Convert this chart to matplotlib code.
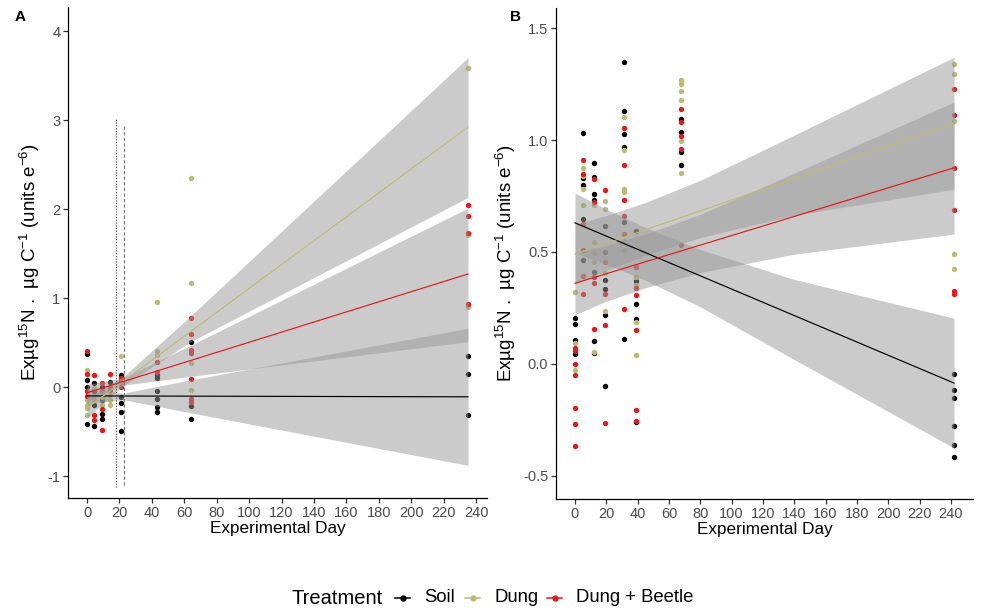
import matplotlib
matplotlib.use("Agg")
import matplotlib.pyplot as plt
from matplotlib.lines import Line2D

plt.rcParams["font.family"] = ["Liberation Sans", "DejaVu Sans"]
plt.rcParams["mathtext.fontset"] = "custom"
plt.rcParams["mathtext.rm"] = "Liberation Sans"
plt.rcParams["mathtext.default"] = "regular"
plt.rcParams["axes.unicode_minus"] = False

SOIL_C = "black"
DUNG_C = "#BDBB73"
BEET_C = "#E3191C"
BAND_C = "#999999"

# ---------------- panel A data ----------------
a_soil_day = [0, 0, 0, 0, 4, 4, 4, 4, 9, 9, 9, 9, 14,
              21, 21, 21, 21, 21, 21, 43, 43, 43, 43, 43, 43,
              64, 64, 64, 235, 235, 235]
a_soil_val = [0.37, 0.08, 0.00, -0.42, 0.04, -0.05, -0.20, -0.44, 0.00, -0.15, -0.30, -0.36, 0.06,
              0.14, 0.07, -0.11, -0.18, -0.28, -0.49, 0.13, 0.10, -0.05, -0.13, -0.22, -0.28,
              0.51, -0.21, -0.36, 0.35, 0.15, -0.31]

a_dung_day = [0, 0, 0, 0, 0, 4, 4, 4, 9, 9, 14, 14, 14,
              21, 21, 43, 43, 43, 64, 64, 64, 64, 235, 235, 235]
a_dung_val = [0.19, -0.15, -0.20, -0.24, -0.31, -0.01, -0.10, -0.15, -0.11, -0.20, -0.09, -0.15, -0.20,
              0.35, 0.03, 0.96, 0.40, 0.36, 2.35, 1.17, 0.27, -0.03, 3.58, 1.71, 0.90]

a_beet_day = [0, 0, 0, 0, 4, 4, 4, 9, 9, 9, 9, 14, 14, 14,
              21, 21, 43, 43, 64, 64, 64, 64, 64, 64, 64, 235, 235, 235, 235]
a_beet_val = [0.40, 0.15, -0.05, -0.10, 0.13, -0.31, -0.37, 0.04, -0.05, -0.25, -0.48, 0.15, 0.00, -0.03,
              0.10, 0.00, 0.28, 0.17, 0.77, 0.60, 0.42, 0.38, 0.09, -0.13, -0.17, 2.04, 1.92, 1.73, 0.93]

a_fit_day = [0, 235]
a_soil_fit = [-0.10, -0.11]
a_dung_fit = [-0.235, 2.92]
a_beet_fit = [-0.065, 1.27]

a_band_day = [0, 22, 64, 235]
a_soil_lo = [-0.19, -0.14, -0.29, -0.88]
a_soil_hi = [-0.01, -0.07, 0.08, 0.66]
a_dung_lo = [-0.35, 0.01, 0.51, 2.13]
a_dung_hi = [-0.12, 0.11, 0.80, 3.70]
a_beet_lo = [-0.16, 0.02, 0.12, 0.51]
a_beet_hi = [0.03, 0.10, 0.47, 2.01]

a_vline_day = [17.7, 22.9]
a_vline_lo = [-1.12, -1.10]
a_vline_hi = [3.02, 2.94]

# ---------------- panel B data ----------------
b_soil_day = [0, 0, 0, 0, 5, 5, 5, 5, 5, 12, 12, 12, 12, 12, 12, 12,
              19, 19, 19, 19, 19, 19, 31, 31, 31, 31, 31, 31, 39, 39, 39, 39, 39,
              68, 68, 68, 68, 242, 242, 242, 242, 242, 242]
b_soil_val = [0.207, 0.177, 0.107, 0.043, 1.032, 0.83, 0.80, 0.647, 0.462,
              0.898, 0.835, 0.76, 0.734, 0.41, 0.103, 0.05,
              0.617, 0.498, 0.376, 0.334, 0.219, -0.10, 1.348, 1.129, 1.025, 0.97, 0.632, 0.11,
              0.595, 0.368, 0.267, 0.201, -0.262, 1.092, 1.035, 0.945, 0.89,
              -0.045, -0.116, -0.151, -0.28, -0.364, -0.415]

b_dung_day = [0, 0, 0, 5, 5, 5, 5, 12, 12, 12, 12, 12, 19, 19, 19, 19,
              31, 31, 31, 31, 31, 31, 39, 39, 39, 39, 68, 68, 68, 68, 68, 68,
              242, 242, 242, 242, 242]
b_dung_val = [0.32, 0.095, -0.027, 0.876, 0.838, 0.78, 0.711, 0.711, 0.543, 0.495, 0.453, 0.055,
              0.729, 0.69, 0.406, 0.237, 1.104, 0.957, 0.78, 0.767, 0.547, 0.51,
              0.39, 0.353, 0.185, 0.04, 1.27, 1.25, 1.22, 1.181, 0.995, 0.853,
              1.338, 1.293, 1.084, 0.491, 0.425]

b_beet_day = [0, 0, 0, 0, 0, 0, 0, 5, 5, 5, 5, 5, 5, 12, 12, 12, 12, 12,
              19, 19, 19, 19, 19, 31, 31, 31, 31, 31, 31, 39, 39, 39, 39, 39, 39,
              68, 68, 68, 68, 68, 242, 242, 242, 242, 242, 242]
b_beet_val = [0.07, 0.058, 0.0, -0.049, -0.198, -0.27, -0.367, 0.913, 0.85, 0.625, 0.51, 0.394, 0.312,
              0.828, 0.722, 0.39, 0.361, 0.155, 0.778, 0.453, 0.312, 0.174, -0.265,
              1.054, 0.887, 0.734, 0.662, 0.58, 0.245, 0.431, 0.339, 0.309, 0.149, -0.206, -0.255,
              1.14, 1.08, 1.02, 0.96, 0.53, 1.229, 1.114, 0.876, 0.689, 0.324, 0.313]

b_fit_day = [0, 242]
b_soil_fit = [0.63, -0.086]
b_dung_fit = [0.49, 1.075]
b_beet_fit = [0.36, 0.876]

b_band_day = [0, 20, 45, 80, 140, 242]
b_soil_lo = [0.496, 0.445, 0.373, 0.255, 0.019, -0.376]
b_soil_hi = [0.764, 0.691, 0.609, 0.511, 0.377, 0.204]
b_dung_lo = [0.356, 0.417, 0.485, 0.564, 0.664, 0.78]
b_dung_hi = [0.624, 0.663, 0.721, 0.82, 1.022, 1.37]
b_beet_lo = [0.219, 0.28, 0.34, 0.408, 0.49, 0.58]
b_beet_hi = [0.501, 0.528, 0.58, 0.668, 0.852, 1.17]

x_ticks = list(range(0, 241, 20))
legend_labels = ["Soil", "Dung", "Dung + Beetle"]
legend_colors = [SOIL_C, DUNG_C, BEET_C]

fig = plt.figure(figsize=(9.82, 6.12), dpi=100)
ax_a = fig.add_axes([68 / 982, 1 - 498 / 612, (487 - 68) / 982, (498 - 7) / 612])
ax_b = fig.add_axes([556 / 982, 1 - 499 / 612, (973 - 556) / 982, (499 - 8) / 612])


def style_axis(ax):
    for side in ("top", "right"):
        ax.spines[side].set_visible(False)
    for side in ("left", "bottom"):
        ax.spines[side].set_linewidth(0.9)
        ax.spines[side].set_color("black")
    ax.tick_params(axis="both", length=3.5, width=0.9, color="#333333",
                   labelcolor="#4D4D4D", labelsize=10.5, pad=2)
    ax.set_xticks(x_ticks)
    ax.set_xlabel("Experimental Day", fontsize=12.3, labelpad=1)
    ax.set_ylabel("Exµg$^{15}$N .  µg C$^{-1}$ (units e$^{-6}$)", fontsize=13.5, labelpad=4)
    ax.yaxis.label.set_y(0.48)


def draw_panel(ax, groups, band_day, fit_day):
    for day, val, lo, hi, fit, col in groups:
        ax.scatter(day, val, s=15, color=col, linewidths=0, zorder=2)
    for day, val, lo, hi, fit, col in groups:
        ax.fill_between(band_day, lo, hi, color=BAND_C, alpha=0.5, linewidth=0, zorder=3)
    for day, val, lo, hi, fit, col in groups:
        ax.plot(fit_day, fit, color=col, linewidth=0.85, zorder=4)


draw_panel(ax_a, [
    (a_soil_day, a_soil_val, a_soil_lo, a_soil_hi, a_soil_fit, SOIL_C),
    (a_dung_day, a_dung_val, a_dung_lo, a_dung_hi, a_dung_fit, DUNG_C),
    (a_beet_day, a_beet_val, a_beet_lo, a_beet_hi, a_beet_fit, BEET_C),
], a_band_day, a_fit_day)
ax_a.vlines(a_vline_day[0], a_vline_lo[0], a_vline_hi[0], colors="#444444",
            linestyles=(0, (1, 1.5)), linewidth=0.8, zorder=5)
ax_a.vlines(a_vline_day[1], a_vline_lo[1], a_vline_hi[1], colors="#777777",
            linestyles=(0, (3, 2)), linewidth=0.8, zorder=5)
style_axis(ax_a)
ax_a.set_xlim(-11.75, 246.75)
ax_a.set_ylim(-1.247, 4.27)
ax_a.set_yticks([-1, 0, 1, 2, 3, 4])

draw_panel(ax_b, [
    (b_soil_day, b_soil_val, b_soil_lo, b_soil_hi, b_soil_fit, SOIL_C),
    (b_dung_day, b_dung_val, b_dung_lo, b_dung_hi, b_dung_fit, DUNG_C),
    (b_beet_day, b_beet_val, b_beet_lo, b_beet_hi, b_beet_fit, BEET_C),
], b_band_day, b_fit_day)
style_axis(ax_b)
ax_b.set_xlim(-12.1, 254.1)
ax_b.set_ylim(-0.604, 1.59)
ax_b.set_yticks([-0.5, 0.0, 0.5, 1.0, 1.5])
ax_b.set_yticklabels(["-0.5", "0.0", "0.5", "1.0", "1.5"])

fig.text(15 / 982, 1 - 17 / 612, "A", fontsize=11, fontweight="bold", va="center")
fig.text(510 / 982, 1 - 17 / 612, "B", fontsize=11, fontweight="bold", va="center")

# legend at the bottom, ggplot style: title on the left, keys in one row
leg_y = 1 - 598 / 612
fig.text(292 / 982, leg_y, "Treatment", fontsize=14.5, va="center", ha="left")
key_x = [395, 465, 547]
for kx, lab, col in zip(key_x, legend_labels, legend_colors):
    fig.add_artist(Line2D([kx / 982, (kx + 15) / 982], [leg_y, leg_y], color=col,
                          linewidth=1.1, transform=fig.transFigure))
    fig.add_artist(Line2D([(kx + 7.5) / 982], [leg_y], color=col, marker="o",
                          markersize=3.5, linestyle="None", transform=fig.transFigure))
    fig.text((kx + 29) / 982, leg_y, lab, fontsize=13.3, va="center", ha="left")

fig.savefig("out.png", dpi=100)
